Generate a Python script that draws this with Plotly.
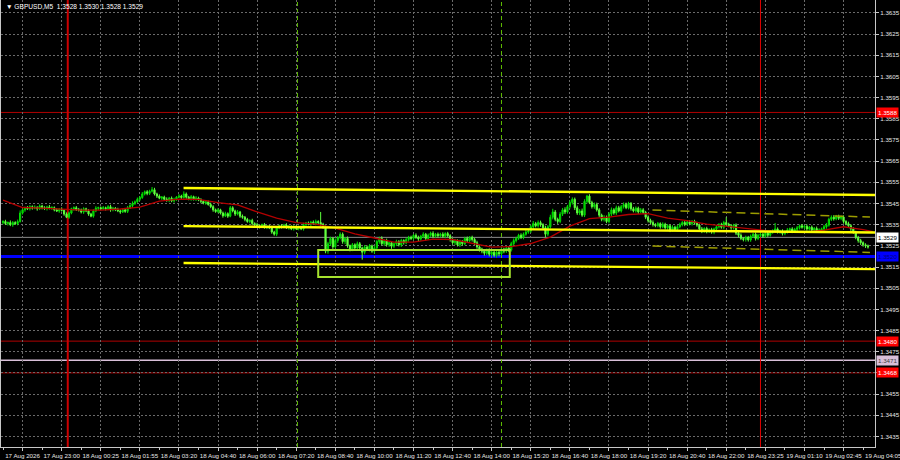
import plotly.graph_objects as go

# ---------------- data (GBPUSD M5, prices stored as pips above 1.3500) ----------------
BASE = 1.3500
PIP = 0.0001

first_open_pips = 36.0
close_pips = [
    36.5, 35.5, 36.0, 35.0, 36.0, 35.5, 36.5,
    40.5,
    42.0, 43.0, 42.5, 43.5, 42.8, 43.2, 42.5, 43.8, 43.0, 42.6, 43.4, 42.8, 43.0,
    42.0, 41.5, 42.3, 41.8,
    40.0, 38.5, 40.5,
    42.5, 43.0, 42.0,
    42.0, 41.0, 42.5, 41.5, 40.0, 39.0,
    41.5, 42.8, 43.0, 42.5,
    43.0, 42.5, 43.5, 42.0, 42.8, 42.2,
    41.5, 41.0, 42.0, 41.3,
    43.0, 44.0, 45.0, 45.8,
    47.0, 47.8,
    49.5, 50.5, 49.8, 50.8,
    51.5, 49.5,
    48.5, 47.5, 48.0, 47.0,
    46.5, 47.5, 46.2, 47.0,
    48.0, 48.5, 47.8, 49.5,
    48.0, 47.2, 48.2, 47.0, 47.6, 46.8,
    46.0, 45.2, 45.8, 44.5,
    43.5, 42.0, 41.2, 42.0,
    40.5, 39.2, 40.2, 39.0, 43.0,
    41.5, 40.0, 41.0, 39.0, 38.5,
    37.5, 36.5, 37.0, 35.5, 35.0,
    34.5, 34.0, 35.0, 33.8, 34.2, 33.5,
    31.5, 30.5,
    33.5, 34.5, 34.0, 34.8,
    33.5, 34.2, 33.0, 34.0, 33.2, 33.8,
    33.0,
    35.0, 35.8, 35.2, 36.2,
    35.5, 36.5, 36.0,
    35.2, 34.0, 22.5,
    26.0, 28.5, 24.5, 27.5,
    29.0, 30.5, 27.0, 28.5,
    25.0, 23.5, 25.5, 24.0,
    26.0, 24.0, 22.0, 24.5,
    23.5, 25.0, 22.5, 24.0,
    27.0, 28.5, 26.0, 27.5,
    25.5, 26.5, 24.8, 26.0,
    27.0, 25.5, 27.5, 26.5,
    28.0, 29.0, 28.5, 30.0, 29.0, 28.2,
    29.5, 30.5, 28.5, 30.0, 31.0, 29.5, 30.5, 29.8,
    30.5, 29.5, 30.8, 29.8,
    28.0, 26.5, 27.5, 25.5, 27.0, 26.0,
    28.5, 27.5, 29.0, 28.0,
    26.5, 24.5, 23.5,
    22.5, 21.5, 23.0, 21.0, 22.0, 20.5, 22.0, 21.2,
    23.5, 22.5, 24.0, 23.0,
    26.0, 27.5,
    28.5, 30.0, 29.0, 30.5,
    31.5, 32.0,
    34.0, 35.5, 34.5, 36.0,
    35.0, 33.5, 30.5, 34.0,
    38.5, 41.0,
    37.5, 36.5,
    40.0, 42.0, 41.0, 43.5,
    45.5, 47.0,
    43.0, 40.5, 41.5, 39.5,
    46.0, 48.5,
    45.5, 43.5, 44.5, 42.0,
    39.5, 37.5, 38.5, 36.5,
    40.0, 42.0, 40.5, 43.0, 41.5,
    43.5, 44.5, 43.0, 45.0,
    42.5, 41.5, 42.8, 41.0, 42.0, 40.8,
    38.5, 37.0, 36.0, 35.0,
    34.5, 35.5, 34.0, 35.2,
    33.5, 34.5, 32.5, 33.8, 32.8, 34.0,
    35.0, 36.0, 35.2, 36.2,
    35.5, 36.5, 35.8, 34.8,
    33.0, 32.0, 33.2, 31.8, 32.6, 31.5, 33.0,
    34.0, 35.0, 33.8, 36.0, 35.2,
    34.5, 33.5, 34.8,
    31.0, 30.0,
    28.5, 28.0, 29.0, 27.8,
    29.5, 30.5, 28.5, 30.0,
    30.5, 29.5, 31.0, 30.0,
    31.5, 32.0,
    33.0,
    31.5, 32.0, 30.8, 31.5,
    32.5, 33.0, 31.8, 32.8,
    33.5, 34.5, 33.8, 34.2,
    33.0, 33.8, 32.5, 33.2, 32.0,
    32.5, 33.0,
    34.0, 34.8,
    37.5, 38.5, 37.8,
    38.8, 38.0, 38.6,
    36.5, 35.5, 34.5,
    33.0, 31.5,
    29.0, 27.5, 26.5, 25.5,
    25.0, 24.5,
]

# upper / lower wick lengths, tenths of a pip
wick_up_tenths = [
    6,8,5,10,7,6,9,12,6,5,8,7,6,9,5,8,6,7,5,9,
    7,6,8,5,9,6,8,7,5,6,8,9,6,7,5,8,6,7,9,5,
    6,8,5,7,9,6,5,8,7,6,9,8,7,10,6,8,7,9,6,8,
    7,13,9,6,8,5,7,9,6,8,7,5,9,6,12,7,6,8,5,9,
    6,7,5,8,6,9,7,6,8,5,7,9,6,8,7,6,9,5,8,6,
    7,5,8,6,9,7,5,8,6,7,9,6,8,5,7,6,9,7,5,8,
    6,8,7,9,5,7,6,8,9,6,50,7,6,9,8,7,10,6,9,8,
    7,9,6,8,7,10,8,6,9,7,8,6,9,7,8,10,6,9,7,8,
    6,9,7,8,6,9,7,8,6,9,8,7,9,6,8,7,9,6,8,7,
    9,6,8,7,9,8,6,9,7,8,9,6,8,7,9,8,6,9,7,8,
    9,6,8,7,9,6,8,7,9,10,8,7,9,8,10,8,9,12,8,10,
    9,7,10,8,12,15,9,8,10,9,12,8,10,9,8,10,9,11,10,6,
    9,8,10,9,8,7,10,8,9,11,8,10,9,8,10,9,8,7,9,8,
    7,9,8,7,9,8,10,7,8,6,9,7,8,6,9,7,8,9,7,8,
    6,9,7,8,6,7,9,6,8,7,9,6,8,7,9,8,25,7,8,6,
    8,7,9,6,8,7,9,6,8,7,9,6,8,7,9,8,28,7,6,8,
    7,9,6,8,7,9,6,8,7,9,6,8,7,9,8,6,9,10,8,9,
    10,8,9,7,8,6,9,7,8,6,7,8,6,7,6,
]
wick_dn_tenths = [
    8,6,9,7,10,6,8,5,7,9,6,8,7,5,9,6,8,7,9,6,
    8,7,5,9,6,8,4,7,6,9,5,8,7,9,6,8,5,7,6,9,
    7,5,8,6,9,7,8,6,9,5,7,8,6,9,7,5,8,6,7,9,
    8,6,7,9,5,8,6,7,9,6,8,7,5,9,6,8,7,9,6,8,
    7,9,6,8,5,7,9,6,8,7,9,6,8,5,7,9,6,8,7,9,
    6,8,7,9,5,8,6,7,9,6,8,7,9,6,8,7,5,9,6,8,
    7,9,6,8,7,5,9,6,8,7,8,9,10,12,9,10,8,11,9,10,
    12,9,11,10,8,12,9,35,10,9,11,8,12,9,10,8,11,9,10,12,
    9,11,8,10,9,7,10,8,9,7,10,8,9,10,7,8,9,7,10,8,
    7,9,8,10,9,11,8,10,9,7,8,9,10,11,9,12,10,11,9,10,
    11,9,10,12,9,10,8,9,7,8,9,7,8,9,7,8,9,10,8,9,
    10,8,15,9,8,10,9,11,8,9,10,8,9,10,11,9,10,8,9,10,
    8,9,10,8,11,9,10,8,9,10,8,9,7,8,9,7,8,9,7,8,
    9,7,8,9,10,8,9,7,8,9,7,8,9,10,7,8,9,7,8,9,
    7,8,9,7,8,9,10,8,9,7,8,10,9,8,7,9,8,7,9,8,
    9,10,8,9,10,8,9,7,10,8,9,7,8,9,7,8,9,7,8,9,
    8,7,9,8,7,9,8,7,9,8,7,9,10,8,9,7,8,9,7,8,
    9,7,8,9,10,8,9,10,8,9,10,11,9,10,8,
]

# moving average (bar index, pips)
ma_bars = [0, 8, 16, 24, 32, 40, 48, 56, 64, 72, 80, 88, 96, 104, 112, 120, 128, 136,
           144, 152, 160, 168, 176, 184, 192, 200, 208, 216, 224, 232, 240, 248, 256,
           264, 272, 280, 288, 296, 304, 312, 320, 328, 336, 344, 352, 356]
ma_pips = [46.6, 43.1, 42.8, 42.4, 41.9, 41.9, 42.4, 43.3, 46.1, 47.1, 46.9, 45.4, 44.3,
           41.0, 38.1, 36.0, 35.3, 33.4, 30.6, 28.7, 26.8, 26.8, 28.2, 28.0, 26.3, 24.4,
           24.6, 26.1, 29.1, 34.3, 37.9, 38.6, 39.8, 40.2, 38.1, 36.9, 35.3, 34.3, 33.1,
           32.2, 31.5, 31.5, 32.4, 34.0, 32.7, 31.7]

# time axis labels
time_labels = ["17 Aug 2026", "17 Aug 23:00", "18 Aug 00:25", "18 Aug 01:55", "18 Aug 03:20",
               "18 Aug 04:40", "18 Aug 06:00", "18 Aug 07:20", "18 Aug 08:40", "18 Aug 10:00",
               "18 Aug 11:20", "18 Aug 12:40", "18 Aug 14:00", "18 Aug 15:20", "18 Aug 16:40",
               "18 Aug 18:00", "18 Aug 19:20", "18 Aug 20:40", "18 Aug 22:00", "18 Aug 23:25",
               "19 Aug 01:10", "19 Aug 02:45", "19 Aug 04:05"]

# price levels: (drawn price, tag text)
level_red = [(1.3588, "1.3588"), (1.3480, "1.3480"), (1.3465, "1.3468")]
level_blue = 1.3520
level_pink = 1.3471
level_bid = 1.3529

# vertical markers (bar index)
day_sep_main = 26.5
day_sep_second = 310.0
session_marks = [120.5, 204.0]

# channel lines: (start bar, end bar, start price, end price)
channel_solid = [
    (73.9, 357.0, 1.35523, 1.35490),
    (73.9, 357.0, 1.35343, 1.35313),
    (73.9, 357.0, 1.35169, 1.35140),
]
channel_dashed = [
    (265.8, 354.8, 1.35419, 1.35386),
    (265.8, 354.8, 1.35249, 1.35219),
]
# consolidation box: bar range and price range
box_bars = (129.0, 207.4)
box_prices = (1.35230, 1.35103)

title_text = "\u25BC GBPUSD,M5  1.3528 1.3530 1.3528 1.3529"

# ---------------- build OHLC ----------------
n = min(len(close_pips), len(wick_up_tenths), len(wick_dn_tenths))
opens, highs, lows, closes = [], [], [], []
prev = first_open_pips
for i in range(n):
    o = prev
    c = close_pips[i]
    h = max(o, c) + wick_up_tenths[i] / 10.0
    l = min(o, c) - wick_dn_tenths[i] / 10.0
    opens.append(BASE + o * PIP)
    closes.append(BASE + c * PIP)
    highs.append(BASE + h * PIP)
    lows.append(BASE + l * PIP)
    prev = c
bars = list(range(n))

FONT = "Liberation Sans"
X_RANGE = [-0.82, 356.87]
fig = go.Figure()

fig.add_trace(go.Candlestick(
    x=bars, open=opens, high=highs, low=lows, close=closes,
    increasing=dict(line=dict(color="#00E000", width=1), fillcolor="#00B000"),
    decreasing=dict(line=dict(color="#5CFF3C", width=1), fillcolor="#7CFF4C"),
    whiskerwidth=0, hoverinfo="skip", showlegend=False,
))

fig.add_trace(go.Scatter(
    x=ma_bars, y=[BASE + p * PIP for p in ma_pips], mode="lines",
    line=dict(color="#B40000", width=1.3), hoverinfo="skip", showlegend=False,
))

for (x0, x1, y0, y1) in channel_solid:
    fig.add_trace(go.Scatter(x=[x0, x1], y=[y0, y1], mode="lines",
                             line=dict(color="#FFFF00", width=2.4),
                             hoverinfo="skip", showlegend=False))
for (x0, x1, y0, y1) in channel_dashed:
    fig.add_trace(go.Scatter(x=[x0, x1], y=[y0, y1], mode="lines",
                             line=dict(color="#9C9C00", width=1.5, dash="9px,5px"),
                             hoverinfo="skip", showlegend=False))

shapes = []
# horizontal levels
shapes.append(dict(type="line", xref="paper", x0=0, x1=1, yref="y", y0=level_bid, y1=level_bid,
                   line=dict(color="#8C8C8C", width=1), layer="below"))
for (lv, _t) in level_red:
    shapes.append(dict(type="line", xref="paper", x0=0, x1=1, yref="y", y0=lv, y1=lv,
                       line=dict(color="#B00000", width=1), layer="below"))
shapes.append(dict(type="line", xref="paper", x0=0, x1=1, yref="y", y0=level_pink, y1=level_pink,
                   line=dict(color="#D8BFD8", width=1.5), layer="below"))
shapes.append(dict(type="line", xref="paper", x0=0, x1=1, yref="y", y0=level_blue, y1=level_blue,
                   line=dict(color="#0000FF", width=3), layer="below"))
# verticals
shapes.append(dict(type="line", xref="x", x0=day_sep_main, x1=day_sep_main, yref="paper", y0=0, y1=1,
                   line=dict(color="#CC0000", width=2), layer="below"))
shapes.append(dict(type="line", xref="x", x0=day_sep_second, x1=day_sep_second, yref="paper", y0=0, y1=1,
                   line=dict(color="#E00000", width=1), layer="below"))
for sm in session_marks:
    shapes.append(dict(type="line", xref="x", x0=sm, x1=sm, yref="paper", y0=0, y1=1,
                       line=dict(color="#5FBF00", width=1, dash="4px,3px"), layer="below"))
# box
shapes.append(dict(type="rect", xref="x", yref="y", x0=box_bars[0], x1=box_bars[1],
                   y0=box_prices[1], y1=box_prices[0],
                   line=dict(color="#A6E22E", width=2), fillcolor="rgba(0,0,0,0)", layer="above"))

# price tick values (the 1.3465 label is hidden behind the 1.3468 tag in the reference)
ytick_vals = [round(1.3435 + 0.001 * k, 4) for k in range(21)]
hidden_tick_labels = [1.3465]
ytick_text = ["" if v in hidden_tick_labels else "%.4f" % v for v in ytick_vals]

# time ticks: every 16 bars; labels whose tick falls past the right edge are written as
# left-aligned annotations starting at their label position (as in the terminal)
all_xticks = [8 + 16 * k for k in range(len(time_labels))]
xtick_vals, xtick_text, overflow = [], [], []
for tv, tl in zip(all_xticks, time_labels):
    if tv <= X_RANGE[1]:
        xtick_vals.append(tv)
        xtick_text.append(tl)
    else:
        overflow.append((tv - 8, tl))

annotations = [dict(text=title_text, x=0.004, y=0.997, xref="paper", yref="paper",
                    xanchor="left", yanchor="top", showarrow=False,
                    font=dict(family=FONT, size=6.6, color="#FFFFFF"))]
for (bx, tl) in overflow:
    annotations.append(dict(text=tl, x=bx, xref="x", y=0, yref="paper",
                            xanchor="left", yanchor="top", yshift=-3, showarrow=False,
                            font=dict(family=FONT, size=6.2, color="#E6E6E6")))

price_tags = [
    (level_red[0][0], level_red[0][1], "#FF0000", "#FFFFFF"),
    (level_bid, "%.4f" % level_bid, "#FFFFFF", "#000000"),
    (level_blue, "%.4f" % level_blue, "#0000FF", "#000080"),
    (level_red[1][0], level_red[1][1], "#FF0000", "#FFFFFF"),
    (level_pink, "%.4f" % level_pink, "#D8BFD8", "#404040"),
    (level_red[2][0], level_red[2][1], "#FF0000", "#FFFFFF"),
]
for (v, txt, bg, fg) in price_tags:
    annotations.append(dict(text=txt, x=1, xref="paper", xanchor="left", xshift=1,
                            y=v, yref="y", yanchor="middle", showarrow=False,
                            bgcolor=bg, borderpad=1,
                            font=dict(family=FONT, size=6.2, color=fg)))

fig.update_layout(
    width=900, height=460,
    margin=dict(l=0, r=24, t=0, b=13),
    paper_bgcolor="#000000", plot_bgcolor="#000000",
    showlegend=False,
    shapes=shapes, annotations=annotations,
    xaxis=dict(
        range=X_RANGE, rangeslider=dict(visible=False),
        tickmode="array", tickvals=xtick_vals, ticktext=xtick_text,
        showgrid=True, gridcolor="#6A6A6A", griddash="2px,2px", gridwidth=1,
        zeroline=False, showline=True, linecolor="#C8C8C8", linewidth=1,
        ticks="outside", ticklen=3, tickcolor="#C8C8C8",
        minor=dict(tickvals=[16 * k for k in range(len(time_labels))], ticks="outside",
                   ticklen=2, tickcolor="#C8C8C8", showgrid=False),
        tickfont=dict(family=FONT, size=6.2, color="#E6E6E6"),
        fixedrange=True,
    ),
    yaxis=dict(
        range=[1.34300, 1.36411], side="right",
        tickmode="array", tickvals=ytick_vals, ticktext=ytick_text,
        showgrid=True, gridcolor="#6A6A6A", griddash="2px,2px", gridwidth=1,
        zeroline=False, showline=True, linecolor="#C8C8C8", linewidth=1, mirror=True,
        ticks="outside", ticklen=3, tickcolor="#C8C8C8",
        tickfont=dict(family=FONT, size=6.2, color="#E6E6E6"),
        fixedrange=True,
    ),
)

fig.write_html(
    "out.html",
    config={"displayModeBar": False, "staticPlot": True},
    post_script="document.body.style.margin='0';document.body.style.background='#000';",
)
